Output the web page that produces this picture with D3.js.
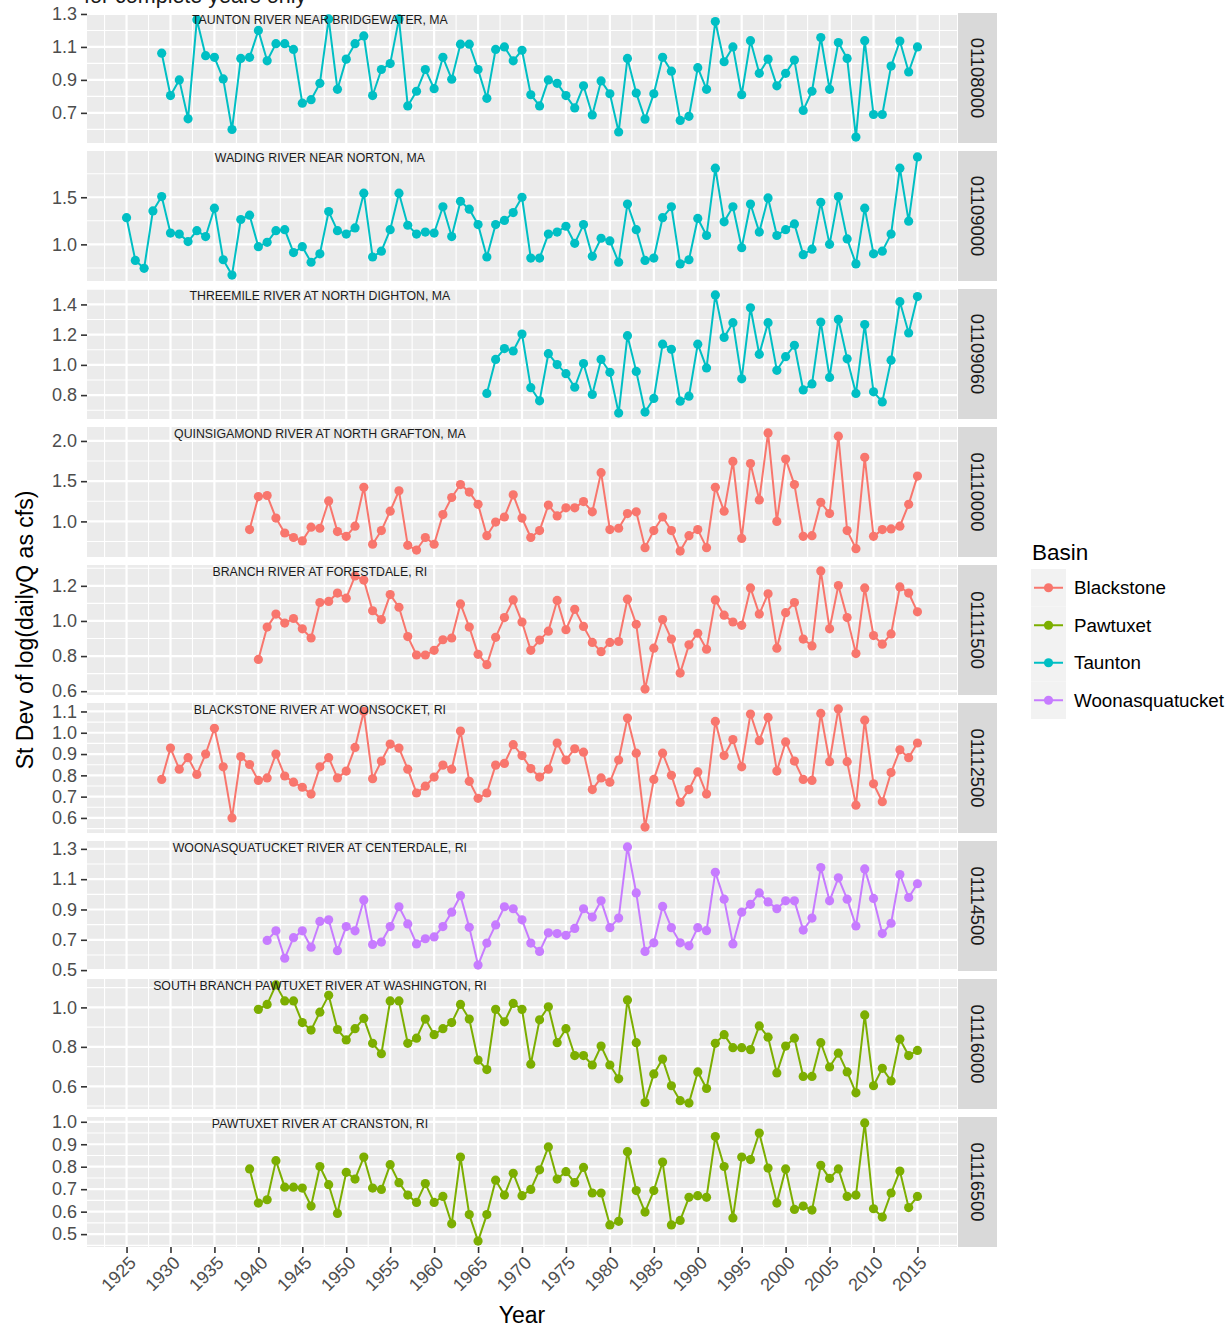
<!DOCTYPE html>
<html>
<head>
<meta charset="utf-8">
<script src="https://cdn.jsdelivr.net/npm/d3@7/dist/d3.min.js"></script>
<style>
  body { margin: 0; background: #ffffff; }
  svg { display: block; font-family: "Liberation Sans", Arial, Helvetica, sans-serif; }
</style>
</head>
<body>
<svg id="chart" width="1231" height="1327"></svg>
<script>
// ---- Annual standard deviation of log(daily flow), one series per gauge ----
const siteIds    = ["01108000", "01109000", "01109060", "01110000", "01111500",
                    "01112500", "01114500", "01116000", "01116500"];
const siteNames  = ["TAUNTON RIVER NEAR BRIDGEWATER, MA", "WADING RIVER NEAR NORTON, MA",
                    "THREEMILE RIVER AT NORTH DIGHTON, MA", "QUINSIGAMOND RIVER AT NORTH GRAFTON, MA",
                    "BRANCH RIVER AT FORESTDALE, RI", "BLACKSTONE RIVER AT WOONSOCKET, RI",
                    "WOONASQUATUCKET RIVER AT CENTERDALE, RI", "SOUTH BRANCH PAWTUXET RIVER AT WASHINGTON, RI",
                    "PAWTUXET RIVER AT CRANSTON, RI"];
const siteBasins = ["Taunton", "Taunton", "Taunton", "Blackstone", "Blackstone",
                    "Blackstone", "Woonasquatucket", "Pawtuxet", "Pawtuxet"];
const startYears = [1929, 1925, 1966, 1939, 1940, 1929, 1941, 1940, 1939];

const sd01108000 = [1.062,0.805,0.90,0.664,1.265,1.047,1.037,0.906,0.599,1.03,
  1.037,1.20,1.016,1.12,1.12,1.085,0.759,0.78,0.879,1.27,
  0.843,1.026,1.12,1.167,0.805,0.963,0.999,1.27,0.742,0.831,
  0.963,0.847,1.037,0.904,1.117,1.117,0.963,0.788,1.085,1.10,
  1.016,1.08,0.81,0.742,0.90,0.879,0.805,0.73,0.864,0.687,
  0.894,0.816,0.584,1.03,0.82,0.662,0.816,1.037,0.953,0.654,
  0.679,0.974,0.843,1.254,1.01,1.10,0.81,1.138,0.94,1.026,
  0.864,0.94,1.02,0.715,0.831,1.157,0.843,1.127,1.03,0.553,
  1.138,0.69,0.69,0.984,1.136,0.948,1.10];
const sd01109000 = [1.283,0.83,0.746,1.355,1.507,1.12,1.109,1.03,1.145,1.083,
  1.384,0.837,0.674,1.264,1.31,0.975,1.022,1.145,1.156,0.913,
  0.975,0.81,0.90,1.348,1.145,1.109,1.174,1.543,0.866,0.928,
  1.156,1.543,1.203,1.109,1.13,1.12,1.399,1.083,1.457,1.373,
  1.21,0.866,1.21,1.254,1.337,1.50,0.855,0.855,1.109,1.13,
  1.192,1.011,1.21,0.873,1.065,1.036,0.81,1.428,1.156,0.83,
  0.855,1.283,1.399,0.793,0.837,1.275,1.094,1.808,1.239,1.399,
  0.964,1.428,1.13,1.493,1.094,1.156,1.217,0.891,0.949,1.446,
  1.0,1.507,1.058,0.793,1.384,0.90,0.928,1.109,1.808,1.246,
  1.928];
const sd01109060 = [0.811,1.036,1.108,1.092,1.204,0.849,0.762,1.074,1.002,0.942,
  0.852,1.009,0.804,1.036,0.951,0.681,1.193,0.957,0.688,0.778,
  1.137,1.103,0.76,0.793,1.137,0.98,1.463,1.182,1.279,0.908,
  1.378,1.07,1.279,0.964,1.054,1.13,0.834,0.874,1.283,0.917,
  1.301,1.04,0.811,1.267,0.822,0.755,1.031,1.418,1.211,1.452];
const sd01110000 = [0.898,1.309,1.322,1.042,0.856,0.80,0.758,0.928,0.915,1.254,
  0.873,0.814,0.941,1.424,0.716,0.886,1.127,1.381,0.703,0.644,
  0.80,0.716,1.085,1.297,1.458,1.364,1.212,0.822,0.992,1.055,
  1.33,1.042,0.80,0.886,1.203,1.068,1.169,1.169,1.246,1.119,
  1.606,0.898,0.915,1.097,1.119,0.674,0.886,1.055,0.886,0.631,
  0.822,0.898,0.674,1.424,1.127,1.746,0.788,1.72,1.267,2.10,
  1.0,1.775,1.458,0.814,0.822,1.237,1.097,2.059,0.886,0.661,
  1.797,0.814,0.898,0.907,0.941,1.212,1.564];
const sd01111500 = [0.781,0.965,1.039,0.988,1.014,0.955,0.903,1.105,1.111,1.159,
  1.13,1.256,1.233,1.058,1.008,1.15,1.078,0.911,0.806,0.806,
  0.833,0.893,0.903,1.097,0.965,0.81,0.751,0.907,1.019,1.12,
  0.994,0.833,0.891,0.942,1.117,0.95,1.066,0.969,0.878,0.825,
  0.878,0.883,1.124,0.981,0.612,0.845,1.008,0.897,0.703,0.864,
  0.93,0.839,1.12,1.033,0.994,0.975,1.188,1.039,1.155,0.845,
  1.047,1.105,0.897,0.858,1.285,0.955,1.202,1.019,0.814,1.188,
  0.917,0.868,0.926,1.194,1.159,1.052];
const sd01112500 = [0.781,0.928,0.829,0.883,0.804,0.90,1.021,0.84,0.60,0.888,
  0.851,0.776,0.788,0.90,0.797,0.768,0.744,0.712,0.84,0.883,
  0.788,0.82,0.931,1.10,0.784,0.867,0.947,0.928,0.829,0.717,
  0.749,0.792,0.848,0.829,1.008,0.772,0.692,0.717,0.848,0.856,
  0.944,0.893,0.832,0.792,0.829,0.952,0.872,0.925,0.909,0.733,
  0.788,0.768,0.872,1.069,0.904,0.557,0.781,0.904,0.80,0.673,
  0.733,0.816,0.712,1.053,0.893,0.968,0.84,1.088,0.963,1.072,
  0.82,0.957,0.867,0.781,0.776,1.091,0.864,1.112,0.864,0.66,
  1.059,0.76,0.676,0.813,0.92,0.883,0.952];
const sd01114500 = [0.696,0.759,0.578,0.714,0.759,0.651,0.821,0.832,0.628,0.787,
  0.759,0.963,0.669,0.685,0.787,0.918,0.805,0.673,0.707,0.719,
  0.787,0.882,0.991,0.782,0.533,0.678,0.798,0.918,0.905,0.832,
  0.678,0.623,0.746,0.741,0.73,0.775,0.905,0.85,0.957,0.78,
  0.843,1.313,1.009,0.623,0.68,0.92,0.78,0.68,0.66,0.78,
  0.76,1.145,0.968,0.673,0.882,0.934,1.009,0.95,0.905,0.957,
  0.957,0.764,0.843,1.177,0.957,1.109,0.968,0.791,1.168,0.973,
  0.741,0.809,1.131,0.979,1.07];
const sd01116000 = [0.99,1.015,1.114,1.033,1.033,0.923,0.885,0.976,1.061,0.888,
  0.835,0.892,0.944,0.818,0.765,1.033,1.033,0.818,0.844,0.941,
  0.862,0.892,0.923,1.015,0.941,0.733,0.685,0.99,0.927,1.02,
  0.99,0.712,0.937,1.003,0.821,0.892,0.756,0.756,0.708,0.804,
  0.708,0.638,1.038,0.821,0.518,0.663,0.738,0.603,0.527,0.515,
  0.673,0.589,0.818,0.862,0.796,0.796,0.786,0.906,0.849,0.668,
  0.804,0.844,0.65,0.65,0.821,0.698,0.768,0.673,0.567,0.962,
  0.603,0.691,0.627,0.839,0.756,0.782];
const sd01116500 = [0.79,0.638,0.653,0.827,0.709,0.709,0.705,0.625,0.801,0.72,
  0.592,0.775,0.745,0.843,0.705,0.699,0.809,0.729,0.674,0.641,
  0.725,0.641,0.668,0.546,0.843,0.587,0.469,0.587,0.74,0.674,
  0.771,0.671,0.699,0.786,0.888,0.745,0.778,0.729,0.797,0.683,
  0.683,0.541,0.557,0.867,0.694,0.598,0.694,0.821,0.541,0.561,
  0.664,0.671,0.664,0.934,0.801,0.572,0.843,0.832,0.95,0.794,
  0.638,0.79,0.61,0.625,0.607,0.806,0.748,0.79,0.668,0.674,
  0.995,0.613,0.576,0.683,0.781,0.618,0.668];
const siteValues = [sd01108000, sd01109000, sd01109060, sd01110000, sd01111500,
                    sd01112500, sd01114500, sd01116000, sd01116500];

// axis breaks
const yTicks = [
  [0.7, 0.9, 1.1, 1.3],
  [1.0, 1.5],
  [0.8, 1.0, 1.2, 1.4],
  [1.0, 1.5, 2.0],
  [0.6, 0.8, 1.0, 1.2],
  [0.6, 0.7, 0.8, 0.9, 1.0, 1.1],
  [0.5, 0.7, 0.9, 1.1, 1.3],
  [0.6, 0.8, 1.0],
  [0.5, 0.6, 0.7, 0.8, 0.9, 1.0]
];
const xTicks = [1925, 1930, 1935, 1940, 1945, 1950, 1955, 1960, 1965, 1970,
                1975, 1980, 1985, 1990, 1995, 2000, 2005, 2010, 2015];
const labelYear = 1947;

const basins = ["Blackstone", "Pawtuxet", "Taunton", "Woonasquatucket"];
const basinColors = ["#F8766D", "#7CAE00", "#00BFC4", "#C77CFF"];

// ---- layout ----
const panelLeft = 87, panelRight = 957;
const firstTop = 13, pitch = 138, panelH = 130;
const stripX = 958, stripW = 39;

const svg = d3.select("#chart");
const color = d3.scaleOrdinal().domain(basins).range(basinColors);

const series = siteIds.map((id, i) => ({
  id,
  name: siteNames[i],
  basin: siteBasins[i],
  points: siteValues[i].map((v, k) => ({ year: startYears[i] + k, value: v }))
}));

const allYears = series.flatMap(s => s.points.map(p => p.year));
const [yr0, yr1] = d3.extent(allYears);
const xPad = (yr1 - yr0) * 0.05;
const x = d3.scaleLinear().domain([yr0 - xPad, yr1 + xPad]).range([panelLeft, panelRight]);

// minor x breaks midway between the major ones, extended one step each side
const xStep = xTicks[1] - xTicks[0];
const xMinor = d3.range(xTicks[0] - xStep / 2, xTicks[xTicks.length - 1] + xStep, xStep)
  .filter(v => v >= x.domain()[0] && v <= x.domain()[1]);

// subtitle line above the panels (runs off the top edge)
svg.append("text")
  .attr("x", 84).attr("y", 3)
  .attr("font-size", 21.5).attr("fill", "#1a1a1a")
  .text("for complete years only");

const line = d3.line().x(d => x(d.year));

series.forEach((s, i) => {
  const top = firstTop + i * pitch;
  const g = svg.append("g").attr("transform", `translate(0,${top})`);
  const ext = d3.extent(s.points, p => p.value);
  const yPad = (ext[1] - ext[0]) * 0.05;
  const y = d3.scaleLinear().domain([ext[0] - yPad, ext[1] + yPad]).range([panelH, 0]);
  const ticks = yTicks[i];
  const yStep = ticks[1] - ticks[0];
  const yMinor = d3.range(ticks[0] - yStep / 2, ticks[ticks.length - 1] + yStep, yStep)
    .filter(v => v >= y.domain()[0] && v <= y.domain()[1]);

  g.append("rect")
    .attr("x", panelLeft).attr("y", 0)
    .attr("width", panelRight - panelLeft).attr("height", panelH)
    .attr("fill", "#ebebeb");

  const grid = g.append("g").attr("stroke", "#ffffff").attr("fill", "none");
  grid.selectAll(".xminor").data(xMinor).join("line")
    .attr("x1", d => x(d)).attr("x2", d => x(d)).attr("y1", 0).attr("y2", panelH)
    .attr("stroke-width", 1.1);
  grid.selectAll(".yminor").data(yMinor).join("line")
    .attr("x1", panelLeft).attr("x2", panelRight).attr("y1", d => y(d)).attr("y2", d => y(d))
    .attr("stroke-width", 1.1);
  grid.selectAll(".xmajor").data(xTicks).join("line")
    .attr("x1", d => x(d)).attr("x2", d => x(d)).attr("y1", 0).attr("y2", panelH)
    .attr("stroke-width", 2.2);
  grid.selectAll(".ymajor").data(ticks).join("line")
    .attr("x1", panelLeft).attr("x2", panelRight).attr("y1", d => y(d)).attr("y2", d => y(d))
    .attr("stroke-width", 2.2);

  const c = color(s.basin);
  g.append("path")
    .datum(s.points)
    .attr("d", line.y(d => y(d.value)))
    .attr("fill", "none").attr("stroke", c).attr("stroke-width", 2)
    .attr("stroke-linejoin", "round");
  g.selectAll("circle").data(s.points).join("circle")
    .attr("cx", d => x(d.year)).attr("cy", d => y(d.value))
    .attr("r", 4.6).attr("fill", c);

  // station name inside the panel
  g.append("text")
    .attr("x", x(labelYear)).attr("y", 7)
    .attr("text-anchor", "middle").attr("dominant-baseline", "central")
    .attr("font-size", 12.3).attr("fill", "#1a1a1a")
    .text(s.name);

  // left axis
  const ax = g.append("g")
    .attr("transform", `translate(${panelLeft},0)`)
    .call(d3.axisLeft(y).tickValues(ticks).tickFormat(d3.format(".1f"))
      .tickSize(6).tickSizeOuter(0).tickPadding(4));
  ax.select(".domain").remove();
  ax.selectAll(".tick line").attr("stroke", "#333333").attr("stroke-width", 1.6);
  ax.selectAll(".tick text")
    .attr("font-size", 18).attr("fill", "#4d4d4d")
    .attr("font-family", "Liberation Sans, Arial, sans-serif");

  // right strip with the gauge number
  g.append("rect")
    .attr("x", stripX).attr("y", 0).attr("width", stripW).attr("height", panelH)
    .attr("fill", "#d9d9d9");
  g.append("text")
    .attr("transform", `translate(${stripX + stripW / 2},${panelH / 2}) rotate(90)`)
    .attr("text-anchor", "middle").attr("dominant-baseline", "central")
    .attr("font-size", 18.4).attr("fill", "#1a1a1a")
    .text(s.id);

  // bottom axis only under the last panel
  if (i === series.length - 1) {
    const bx = g.append("g")
      .attr("transform", `translate(0,${panelH})`)
      .call(d3.axisBottom(x).tickValues(xTicks).tickFormat(d3.format("d"))
        .tickSize(6).tickSizeOuter(0));
    bx.select(".domain").remove();
    bx.selectAll(".tick line").attr("stroke", "#333333").attr("stroke-width", 1.6);
    bx.selectAll(".tick text")
      .attr("x", null).attr("y", null).attr("dy", null)
      .attr("text-anchor", "end")
      .attr("transform", "translate(10,17) rotate(-45)")
      .attr("font-size", 18).attr("fill", "#4d4d4d")
      .attr("font-family", "Liberation Sans, Arial, sans-serif");
  }
});

// axis titles
const plotMid = firstTop + ((series.length - 1) * pitch + panelH) / 2;
svg.append("text")
  .attr("transform", `translate(33,${plotMid}) rotate(-90)`)
  .attr("text-anchor", "middle")
  .attr("font-size", 23).attr("fill", "#000000")
  .text("St Dev of log(dailyQ as cfs)");
svg.append("text")
  .attr("x", (panelLeft + panelRight) / 2).attr("y", 1323)
  .attr("text-anchor", "middle")
  .attr("font-size", 23).attr("fill", "#000000")
  .text("Year");

// legend
const legend = svg.append("g").attr("transform", "translate(1031,0)");
legend.append("text")
  .attr("x", 1).attr("y", 560)
  .attr("font-size", 22.5).attr("fill", "#000000")
  .text("Basin");
const keySize = 37.5, keyTop = 569;
const item = legend.selectAll(".item").data(basins).join("g")
  .attr("transform", (d, k) => `translate(0,${keyTop + k * keySize})`);
item.append("rect")
  .attr("x", 0).attr("y", 0).attr("width", 35).attr("height", keySize)
  .attr("fill", "#f2f2f2");
item.append("line")
  .attr("x1", 3).attr("x2", 32).attr("y1", keySize / 2).attr("y2", keySize / 2)
  .attr("stroke", d => color(d)).attr("stroke-width", 2);
item.append("circle")
  .attr("cx", 17.5).attr("cy", keySize / 2).attr("r", 4.6)
  .attr("fill", d => color(d));
item.append("text")
  .attr("x", 43).attr("y", keySize / 2)
  .attr("dominant-baseline", "central")
  .attr("font-size", 18.8).attr("fill", "#000000")
  .text(d => d);
</script>
</body>
</html>
